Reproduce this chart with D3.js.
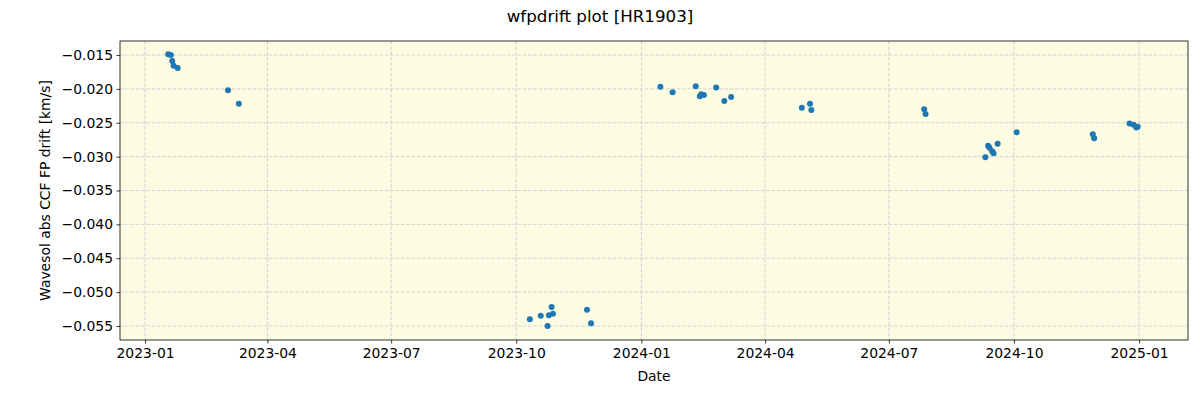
<!DOCTYPE html>
<html><head><meta charset="utf-8">
<script src="https://cdn.jsdelivr.net/npm/d3@7"></script>
<style>body{margin:0;background:#fff;} text{font-family:"DejaVu Sans",sans-serif;}</style>
</head><body><svg id="c" width="1200" height="400"></svg>
<script>
const dates = ["2023-01-18","2023-01-20","2023-01-21","2023-01-22","2023-01-25","2023-03-03","2023-03-11",
"2023-10-11","2023-10-19","2023-10-24","2023-10-25","2023-10-27","2023-10-28","2023-11-22","2023-11-25",
"2024-01-15","2024-01-24","2024-02-10","2024-02-13","2024-02-14","2024-02-16","2024-02-25","2024-03-02","2024-03-07",
"2024-04-28","2024-05-04","2024-05-05","2024-07-27","2024-07-28",
"2024-09-10","2024-09-12","2024-09-13","2024-09-15","2024-09-16","2024-09-19","2024-10-03",
"2024-11-28","2024-11-29","2024-12-25","2024-12-28","2024-12-30","2024-12-31"];
const values = [-0.0149,-0.0150,-0.0159,-0.0166,-0.0169,-0.0202,-0.0222,
-0.0540,-0.0535,-0.0550,-0.0534,-0.0522,-0.0532,-0.0526,-0.0546,
-0.0197,-0.0205,-0.0196,-0.0211,-0.0208,-0.0209,-0.0198,-0.0218,-0.0212,
-0.0228,-0.0222,-0.0231,-0.0230,-0.0237,
-0.0301,-0.0284,-0.0287,-0.0292,-0.0295,-0.0281,-0.0264,
-0.0267,-0.0273,-0.0251,-0.0253,-0.0257,-0.0256];
const xTicks = ["2023-01-01","2023-04-01","2023-07-01","2023-10-01","2024-01-01","2024-04-01","2024-07-01","2024-10-01","2025-01-01"];
const yTicks = [-0.055,-0.050,-0.045,-0.040,-0.035,-0.030,-0.025,-0.020,-0.015];
const xDomain = ["2022-12-13T14:00","2025-02-06"];
const yDomain = [-0.05707,-0.01293];
const title = "wfpdrift plot [HR1903]";
const xLabel = "Date";
const yLabel = "Wavesol abs CCF FP drift [km/s]";

const parse = s => new Date(s + (s.length===10 ? "T00:00:00Z" : ":00Z"));
const L=120, R=1188, T=41, B=340;
const svg = d3.select("#c");
const x = d3.scaleUtc().domain(xDomain.map(parse)).range([L,R]);
const y = d3.scaleLinear().domain(yDomain).range([B,T]);

svg.append("rect").attr("x",L).attr("y",T).attr("width",R-L).attr("height",B-T).attr("fill","#fcfce2");

const g = svg.append("g");
g.selectAll("line.vg").data(xTicks).join("line").attr("class","vg")
  .attr("x1",d=>x(parse(d))).attr("x2",d=>x(parse(d))).attr("y1",T).attr("y2",B)
  .attr("stroke","#d3d3d3").attr("stroke-width",1).attr("stroke-dasharray","3.7,1.6");
g.selectAll("line.hg").data(yTicks).join("line").attr("class","hg")
  .attr("y1",d=>y(d)).attr("y2",d=>y(d)).attr("x1",L).attr("x2",R)
  .attr("stroke","#d3d3d3").attr("stroke-width",1).attr("stroke-dasharray","3.7,1.6");

svg.append("g").selectAll("circle").data(dates.map((d,i)=>[parse(d),values[i]])).join("circle")
  .attr("cx",d=>x(d[0])).attr("cy",d=>y(d[1])).attr("r",3).attr("fill","#1f77b4");

const xa = svg.append("g").attr("transform",`translate(0,${B})`)
  .call(d3.axisBottom(x).tickValues(xTicks.map(parse)).tickFormat(d3.utcFormat("%Y-%m")).tickSize(3.5).tickSizeOuter(0));
const ya = svg.append("g").attr("transform",`translate(${L},0)`)
  .call(d3.axisLeft(y).tickValues(yTicks).tickFormat(d=>d3.format(".3f")(d).replace("-","\u2212")).tickSize(3.5).tickSizeOuter(0));
[xa,ya].forEach(a=>{a.select(".domain").remove();a.selectAll("text").attr("font-size",13.9).attr("fill","#000").style("font-family","DejaVu Sans");a.selectAll("line").attr("stroke","#000").attr("stroke-width",0.8);});
xa.selectAll("text").attr("dy","0.71em").attr("y",8.5);
ya.selectAll("text").attr("x",-7);

svg.append("rect").attr("x",L).attr("y",T).attr("width",R-L).attr("height",B-T).attr("fill","none").attr("stroke","#000").attr("stroke-width",0.8);

svg.append("text").attr("x",600).attr("y",22).attr("text-anchor","middle").attr("font-size",16.7).text(title);
svg.append("text").attr("x",(L+R)/2).attr("y",381).attr("text-anchor","middle").attr("font-size",13.9).text(xLabel);
svg.append("text").attr("transform",`translate(50,${(T+B)/2}) rotate(-90)`).attr("text-anchor","middle").attr("font-size",13.9).text(yLabel);
</script></body></html>
